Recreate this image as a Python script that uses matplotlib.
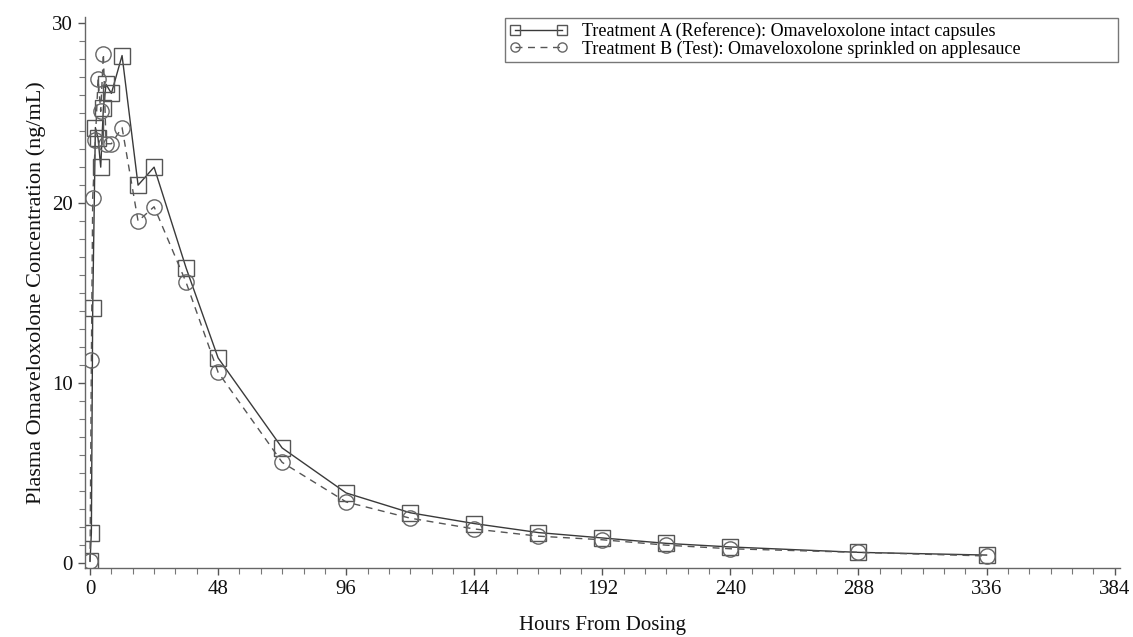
import matplotlib
matplotlib.use("Agg")
import matplotlib.pyplot as plt
from matplotlib.ticker import MultipleLocator

# mean plasma concentration-time profiles (ng/mL) by sampling time (h)
hours = [0, 0.5, 1, 2, 3, 4, 5, 6, 8, 12, 18, 24, 36, 48, 72,
         96, 120, 144, 168, 192, 216, 240, 288, 336]
conc_a = [0.1, 1.7, 14.2, 24.2, 23.6, 22.0, 25.3, 26.6, 26.1, 28.2, 21.0, 22.0, 16.4, 11.4, 6.4,
          3.9, 2.8, 2.2, 1.7, 1.4, 1.1, 0.9, 0.6, 0.45]
conc_b = [0.1, 11.3, 20.3, 23.5, 26.9, 25.1, 28.3, 23.3, 23.3, 24.2, 19.0, 19.8, 15.6, 10.6, 5.6,
          3.4, 2.5, 1.9, 1.5, 1.3, 1.0, 0.8, 0.6, 0.4]

label_a = "Treatment A (Reference): Omaveloxolone intact capsules"
label_b = "Treatment B (Test): Omaveloxolone sprinkled on applesauce"
x_ticks = [0, 48, 96, 144, 192, 240, 288, 336, 384]
y_ticks = [0, 10, 20, 30]

plt.rcParams["font.family"] = ["Liberation Serif", "DejaVu Serif"]

fig = plt.figure(figsize=(11.33, 6.37), dpi=100)
ax = fig.add_axes([0.075, 0.108, 0.9135, 0.865])

ax.plot(hours, conc_a, color="#3a3a3a", lw=1.0, ls="-",
        marker="s", ms=11, mfc="none", mec="#555555", mew=1.0, label=label_a)
ax.plot(hours, conc_b, color="#555555", lw=1.0, ls=(0, (5, 4)),
        marker="o", ms=11, mfc="none", mec="#666666", mew=1.0, label=label_b)

ax.set_xlim(-1.9, 386)
ax.set_ylim(-0.28, 30.33)
ax.set_xticks(x_ticks)
ax.set_yticks(y_ticks)
ax.xaxis.set_minor_locator(MultipleLocator(8))
ax.yaxis.set_minor_locator(MultipleLocator(1))

for side in ("top", "right"):
    ax.spines[side].set_visible(False)
for side in ("left", "bottom"):
    ax.spines[side].set_color("#666666")
    ax.spines[side].set_linewidth(1.0)

ax.tick_params(which="major", length=5, width=1.0, color="#555555",
               labelsize=15, labelcolor="#111111")
ax.tick_params(axis="y", which="major", pad=4)
ax.tick_params(which="minor", length=4, width=0.8, color="#777777")

ax.set_xlabel("Hours From Dosing", fontsize=15, color="#111111", labelpad=12)
ax.set_ylabel("Plasma Omaveloxolone Concentration (ng/mL)", fontsize=16,
              color="#111111", labelpad=4)

# legend box stretched across the upper right of the plot area
leg = ax.legend(loc="upper left", bbox_to_anchor=(0.406, 0.999, 0.592, 0.0),
                mode="expand", fontsize=13, frameon=True, fancybox=False,
                numpoints=2, handlelength=3.2, handletextpad=0.8,
                labelspacing=0.0, borderpad=0.25, borderaxespad=0.0,
                markerscale=0.6)
leg.get_frame().set_edgecolor("#555555")
leg.get_frame().set_linewidth(1.0)

fig.savefig("out.png", dpi=100)
